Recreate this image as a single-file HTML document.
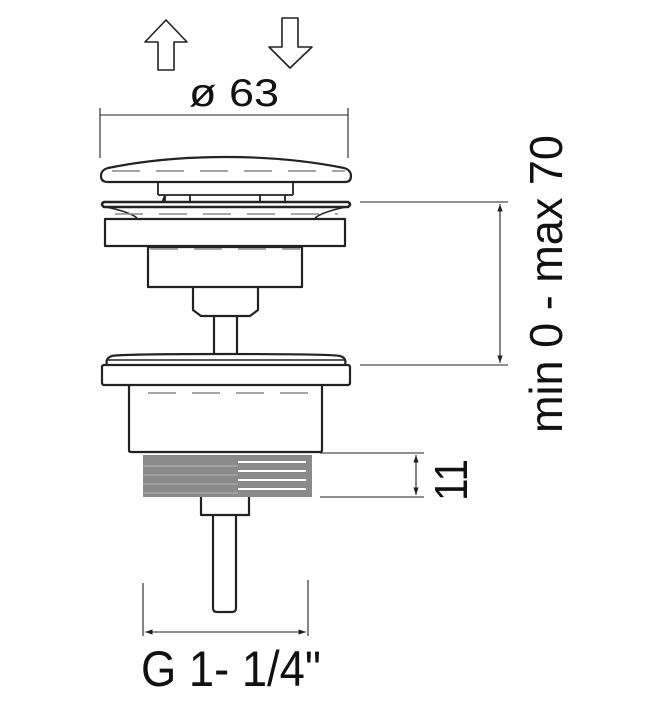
<!DOCTYPE html>
<html><head><meta charset="utf-8"><style>
html,body{margin:0;padding:0;background:#fff;width:654px;height:712px;overflow:hidden}
svg{display:block}
text{font-family:"Liberation Sans",sans-serif;fill:#111}
</style></head><body>
<svg width="654" height="712" viewBox="0 0 654 712" xmlns="http://www.w3.org/2000/svg">
<defs>
<marker id="ar" viewBox="0 0 10 10" refX="10" refY="5" markerWidth="7" markerHeight="7" orient="auto-start-reverse"><path d="M0,1.5 L10,5 L0,8.5 z" fill="#222"/></marker>
</defs>
<g fill="none" stroke="#222" stroke-width="2.2" stroke-linejoin="round">
<path d="M166,20 L187,42 L174,42 L174,70 L158,70 L158,42 L145,42 Z" stroke-width="1.6"/>
<path d="M290,68 L312,47 L298,47 L298,18 L282,18 L282,47 L269,47 Z" stroke-width="1.6"/>
<path d="M108,182 L345,182 Q351,182 351,176 Q351,170 344,168 Q290,157 226,157 Q162,157 108,168 Q101,170 101,176 Q101,182 108,182 Z"/>
<path d="M158,182 V195 M293,182 V195 M158,195 H293 M165,195 V203 M190,195 V203 M260,195 V203 M285,195 V203 M165,195 L162,203" stroke-width="1.8"/>
<path d="M104,202 H348 Q352,204 348,207 H104 Q100,204 104,202 Z" stroke-width="2.5"/>
<path d="M106,207 Q130,212 137,218 M346,207 Q322,212 315,218" stroke-width="1.6"/>
<rect x="105" y="219" width="240" height="27"/>
<rect x="148" y="247" width="154" height="40"/>
<path d="M193,288 V310 L201,316 H250 L258,310 V288"/>
<path d="M214,316 V355 M237,316 V355"/>
<path d="M107,365 Q105,358 112,356 Q120,354 226,354 Q332,354 340,356 Q347,358 345,365"/>
<path d="M107,360 H345" stroke-width="1.4"/>
<rect x="102" y="365" width="248" height="20" rx="2"/>
<path d="M129,385 V450 Q129,452 131,452 H320 Q322,452 322,450 V385"/>
<path d="M201,497 V515 H249 V497"/>
<path d="M213,515 V608 Q213,612 217,612 H232 Q236,612 236,608 V515"/>
</g>
<g stroke="#888" stroke-width="1.4" stroke-dasharray="28,16" fill="none">
<path d="M112,171 H345"/>
<path d="M115,214 H338"/>
<path d="M150,249 H300"/>
<path d="M148,393 H320"/>
</g>
<g>
<rect x="143" y="455" width="169" height="42" fill="#8a8a8a"/>
<g stroke="#fff" stroke-width="2">
<path d="M238,462 H306 M238,471 H306 M238,480 H306 M238,489 H306"/>
</g>
<g stroke="#bbb" stroke-width="1">
<path d="M143,466 H238 M143,475 H238 M143,484 H238 M143,493 H238"/>
</g>
</g>
<g stroke="#222" stroke-width="1.1" fill="none">
<path d="M100,108 V158 M348,108 V158 M100,115 H348"/>
<path d="M360,202 H508 M360,365 H508"/>
<path d="M500,204 V363" marker-start="url(#ar)" marker-end="url(#ar)"/>
<path d="M320,453 H424 M320,497 H424"/>
<path d="M416,455 V495" marker-start="url(#ar)" marker-end="url(#ar)"/>
<path d="M143,583 V636 M308,580 V636"/>
<path d="M145,632 H306" marker-start="url(#ar)" marker-end="url(#ar)"/>
</g>
<text x="189" y="106" font-size="39" textLength="90" lengthAdjust="spacingAndGlyphs">ø 63</text>
<text transform="translate(562,433) rotate(-90)" font-size="46" textLength="298" lengthAdjust="spacingAndGlyphs">min 0 - max 70</text>
<text transform="translate(467,501) rotate(-90)" font-size="46" textLength="42" lengthAdjust="spacingAndGlyphs">11</text>
<text x="141" y="686" font-size="50" textLength="180" lengthAdjust="spacingAndGlyphs">G 1- 1/4"</text>
</svg>
</body></html>
